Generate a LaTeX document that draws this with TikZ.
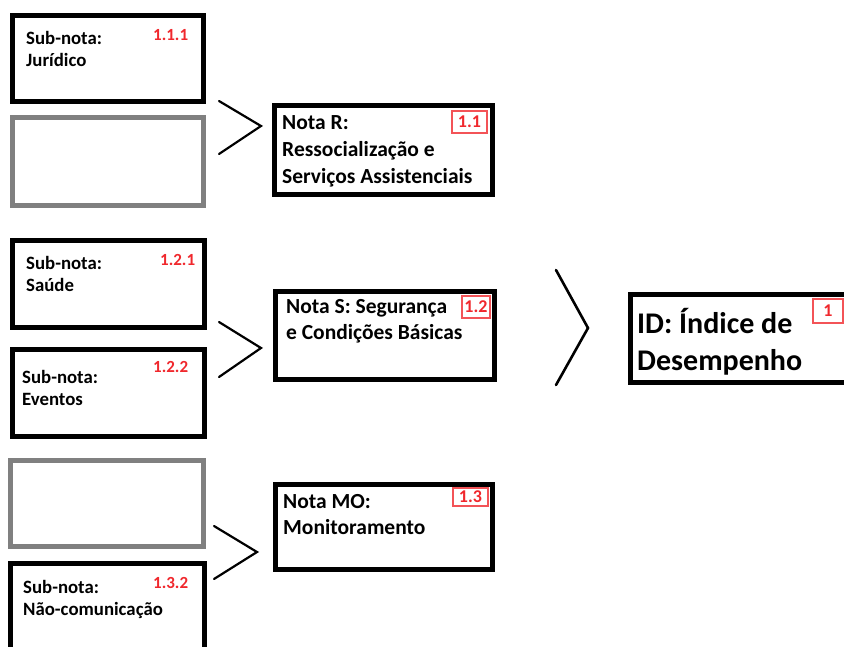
\documentclass[tikz,border=0pt]{standalone}
\usepackage{fontspec}
\setmainfont{Carlito}
\definecolor{lblred}{RGB}{240,40,45}
\newcommand{\mylines}[3]{\vtop{\baselineskip=#1pt\hbox{#2}\hbox{#3}}}
\newcommand{\mythree}[4]{\vtop{\baselineskip=#1pt\hbox{#2}\hbox{#3}\hbox{#4}}}
\tikzset{
  boxk/.style={draw=black, line width=5pt, fill=white, inner sep=0pt, rectangle},
  boxg/.style={draw=black!50, line width=5pt, fill=white, inner sep=0pt, rectangle},
  subtxt/.style={anchor=base west, inner sep=0pt, font=\fontsize{18.8}{22}\selectfont\bfseries},
  notatxt/.style={anchor=base west, inner sep=0pt, font=\fontsize{21.5}{27}\selectfont\bfseries},
  idtxt/.style={anchor=base west, inner sep=0pt, font=\fontsize{30}{37}\selectfont\bfseries},
  redlbl/.style={anchor=base west, inner sep=0pt, text=lblred, font=\fontsize{17}{17}\selectfont\bfseries},
  redbox/.style={draw=lblred!80, line width=1.2pt, fill=white, inner sep=0pt, rectangle, text=lblred, font=\fontsize{18}{18}\selectfont\bfseries},
  chev/.style={draw=black, line width=2.2pt, line cap=round},
}
\begin{document}
\begin{tikzpicture}[x=1pt, y=-1pt]
\useasboundingbox[fill=white] (0,0) rectangle (844,646);
% boxes (centre, size of border centre line)
\node[boxk, minimum width=191pt, minimum height=86pt] (b111) at (108,58.5) {};
\node[boxg, minimum width=191pt, minimum height=88pt] (g112) at (108,161.5) {};
\node[boxk, minimum width=218pt, minimum height=89pt] (nr) at (383.5,150) {};
\node[boxk, minimum width=192pt, minimum height=87pt] (b121) at (108.5,284) {};
\node[boxk, minimum width=192pt, minimum height=87pt] (b122) at (108.5,393) {};
\node[boxk, minimum width=219pt, minimum height=88pt] (ns) at (385,335.5) {};
\node[boxk, minimum width=220pt, minimum height=88pt] (id) at (740.5,338.5) {};
\node[boxg, minimum width=193pt, minimum height=86pt] (g131) at (107,503.5) {};
\node[boxk, minimum width=194pt, minimum height=100pt] (b132) at (107.5,613.5) {};
\node[boxk, minimum width=217pt, minimum height=85pt] (nmo) at (384,527) {};

% texts
\node[subtxt] (t111) at (26,44) {\mylines{22}{Sub-nota:}{Jurídico}};
\node[redlbl] (l111) at (153,40) {1.1.1};
\node[notatxt] (tnr) at (282,129) {\mythree{27}{Nota R:}{Ressocialização e}{Serviços Assistenciais}};
\node[redbox, minimum width=35pt, minimum height=22pt] (lnr) at (469.5,122) {1.1};

\node[subtxt] (t121) at (26,269) {\mylines{22}{Sub-nota:}{Saúde}};
\node[redlbl] (l121) at (160,265) {1.2.1};
\node[subtxt] (t122) at (22,383) {\mylines{22}{Sub-nota:}{Eventos}};
\node[redlbl] (l122) at (153,372) {1.2.2};
\node[notatxt] (tns) at (286,313) {\mylines{26}{Nota S: Segurança}{e Condições Básicas}};
\node[redbox, minimum width=28pt, minimum height=22pt] (lns) at (476,307) {1.2};

\node[idtxt] (tid) at (637,333) {\mylines{37}{ID: Índice de}{Desempenho}};
\node[redbox, minimum width=30pt, minimum height=24pt] (lid) at (828,311) {1};

\node[subtxt] (t132) at (23,593) {\mylines{22}{Sub-nota:}{Não-comunicação}};
\node[redlbl] (l132) at (153,588) {1.3.2};
\node[notatxt] (tnmo) at (283,508) {\mylines{26}{Nota MO:}{Monitoramento}};
\node[redbox, minimum width=35pt, minimum height=18pt] (lnmo) at (470.5,497) {1.3};

% chevrons
\coordinate (c1a) at (219,101);
\coordinate (c1b) at (261,126);
\coordinate (c1c) at (219,154);
\coordinate (c2a) at (219,322);
\coordinate (c2b) at (261,348);
\coordinate (c2c) at (219,377);
\coordinate (c3a) at (214,526);
\coordinate (c3b) at (257,552);
\coordinate (c3c) at (214,579);
\coordinate (c4a) at (556,270);
\coordinate (c4b) at (588,328);
\coordinate (c4c) at (556,385);
\draw[chev] (c1a) -- (c1b) -- (c1c);
\draw[chev] (c2a) -- (c2b) -- (c2c);
\draw[chev] (c3a) -- (c3b) -- (c3c);
\draw[chev, line width=2.6pt] (c4a) -- (c4b) -- (c4c);
\end{tikzpicture}
\end{document}
